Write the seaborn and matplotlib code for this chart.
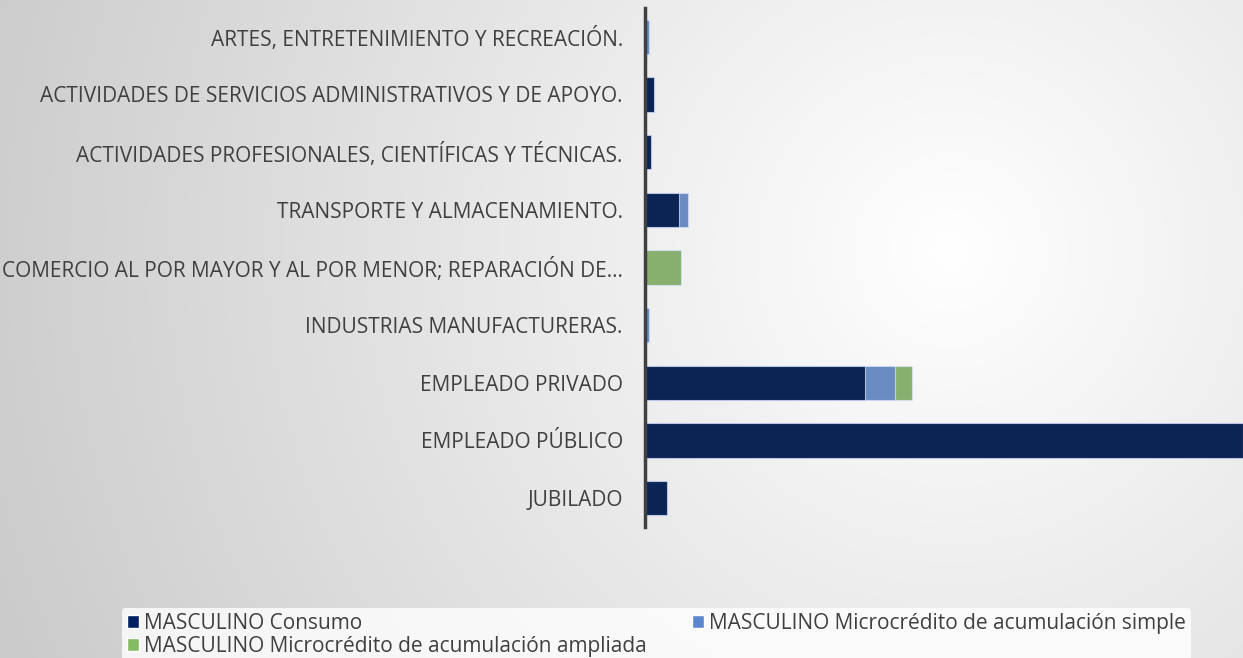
import numpy as np
import pandas as pd
import seaborn as sns
import matplotlib.pyplot as plt
from matplotlib.patches import Patch

categorias = [
    "ARTES, ENTRETENIMIENTO Y RECREACIÓN.",
    "ACTIVIDADES DE SERVICIOS ADMINISTRATIVOS Y DE APOYO.",
    "ACTIVIDADES PROFESIONALES, CIENTÍFICAS Y TÉCNICAS.",
    "TRANSPORTE Y ALMACENAMIENTO.",
    "COMERCIO AL POR MAYOR Y AL POR MENOR; REPARACIÓN DE…",
    "INDUSTRIAS MANUFACTURERAS.",
    "EMPLEADO PRIVADO",
    "EMPLEADO PÚBLICO",
    "JUBILADO",
]
consumo = [0, 2.0, 1.4, 8.0, 0, 0, 51.2, 139, 5.2]
acum_simple = [1.0, 0, 0, 2.0, 0, 1.0, 6.8, 0, 0]
acum_ampliada = [0, 0, 0, 0, 8.4, 0, 4.1, 0, 0]

series = [
    "MASCULINO Consumo",
    "MASCULINO Microcrédito de acumulación simple",
    "MASCULINO Microcrédito de acumulación ampliada",
]
colores = ["#002060", "#5B87D0", "#84BB64"]

df = pd.DataFrame({
    "categoria": categorias,
    "consumo": consumo,
    "simple": acum_simple,
    "ampliada": acum_ampliada,
})
df["t1"] = df["consumo"]
df["t2"] = df["t1"] + df["simple"]
df["t3"] = df["t2"] + df["ampliada"]

sns.set_style("white")
plt.rcParams["font.family"] = ["Open Sans", "DejaVu Sans"]

fig = plt.figure(figsize=(12.43, 6.58), dpi=100)

# fondo con degradado radial
bg = fig.add_axes([0, 0, 1, 1], zorder=-10)
yy, xx = np.mgrid[0:658, 0:1243]
r = np.sqrt((xx - 950) ** 2 + (yy - 250) ** 2) / 1000
g = np.clip(1 - 0.2 * r, 0.8, 1)
bg.imshow(np.dstack([g, g, g]), aspect="auto", extent=[0, 1, 0, 1])
bg.axis("off")

ax = fig.add_axes([645 / 1243, 1 - 527 / 658, 1 - 645 / 1243, (527 - 8) / 658])
ax.set_facecolor("none")

# barras apiladas: se dibujan los acumulados de mayor a menor
for col, color in zip(["t3", "t2", "t1"], colores[::-1]):
    sns.barplot(data=df, x=col, y="categoria", color=color, orient="h",
                width=0.6, edgecolor=(0.85, 0.9, 1, 0.7), linewidth=0.8, ax=ax)

ax.set_xlim(0, 139)
ax.set_xlabel("")
ax.set_ylabel("")
ax.set_xticks([])
sns.despine(ax=ax, top=True, right=True, bottom=True)
ax.spines["left"].set_color("#404040")
ax.spines["left"].set_linewidth(2.5)
ax.tick_params(axis="y", length=0, pad=16, labelsize=15, labelcolor="#404040")

handles = [Patch(facecolor=colores[0], edgecolor="white"),
           Patch(facecolor=colores[2], edgecolor="white"),
           Patch(facecolor=colores[1], edgecolor="white")]
labels = [series[0], series[2], series[1]]
leg = fig.legend(handles, labels, ncol=2,
                 bbox_to_anchor=(122 / 1243, -4 / 658),
                 loc="lower left", frameon=True, fontsize=15, handlelength=0.55,
                 handleheight=0.55, handletextpad=0.25, labelspacing=0.1,
                 columnspacing=2.2, borderpad=0.25, borderaxespad=0)
leg.get_frame().set_facecolor((1, 1, 1, 0.35))
leg.get_frame().set_edgecolor("none")
for t in leg.get_texts():
    t.set_color("#404040")

fig.savefig("out.png", dpi=100)
